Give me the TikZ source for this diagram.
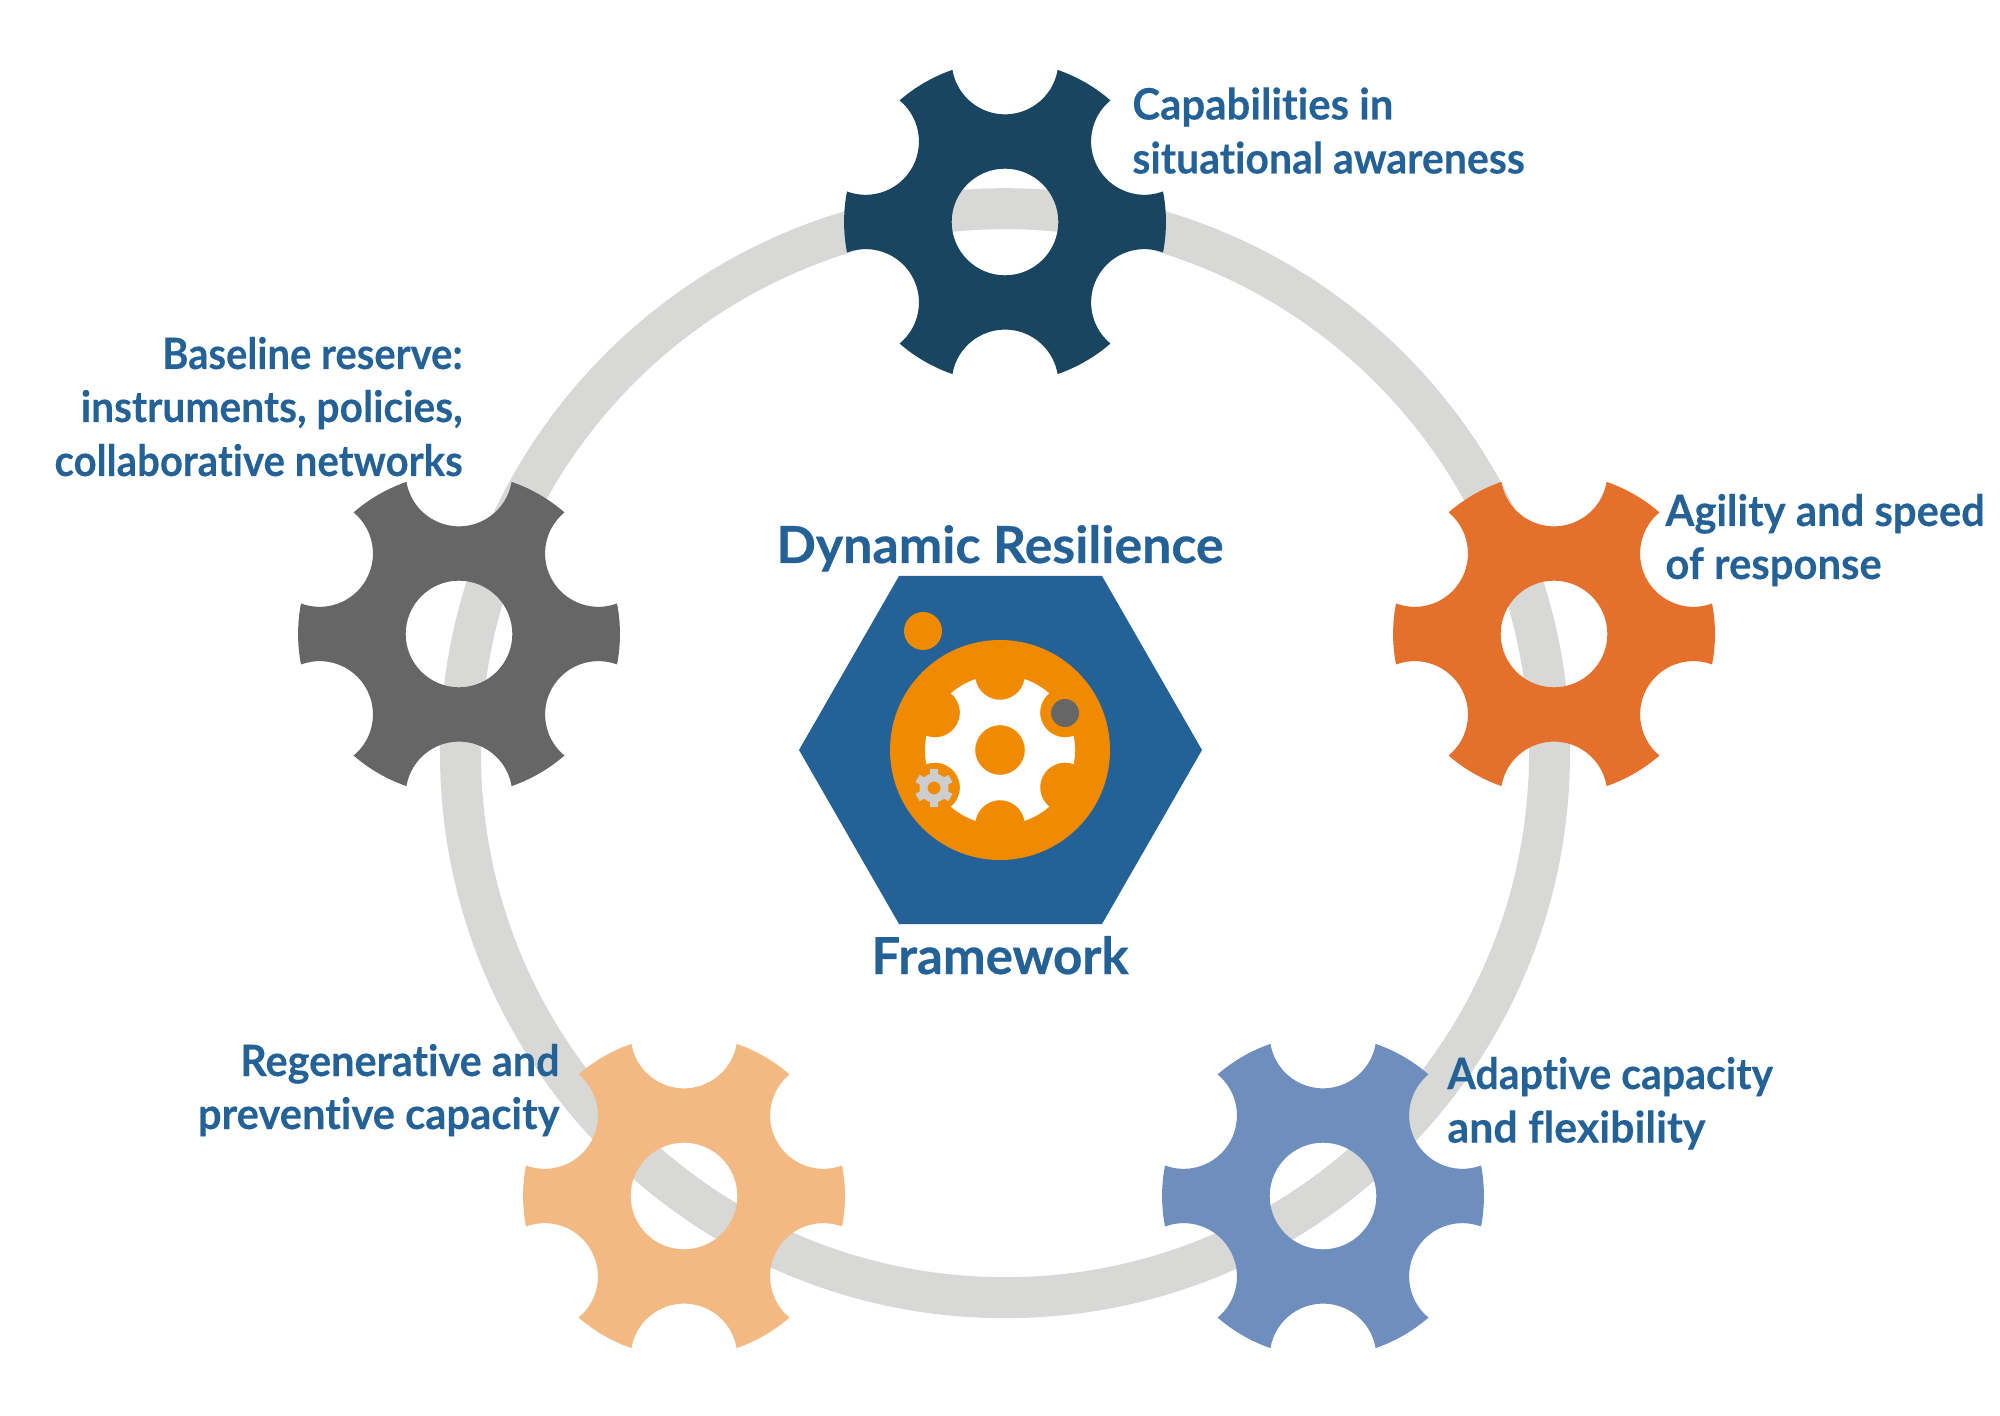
\documentclass[tikz,border=0pt]{standalone}
\usepackage{fontspec}
\setmainfont{Lato}[Ligatures=NoCommon]
\definecolor{ringgray}{HTML}{D8D8D6}
\definecolor{navy}{HTML}{1A4560}
\definecolor{rust}{HTML}{E5702C}
\definecolor{slate}{HTML}{666666}
\definecolor{peach}{HTML}{F2BA82}
\definecolor{steel}{HTML}{6E8EBE}
\definecolor{inkblue}{HTML}{236196}
\definecolor{amber}{HTML}{F08A00}
\definecolor{minigray}{HTML}{CDCDCD}
\tikzset{
  x=0.5pt,y=0.5pt,
  gear/.pic={
    \path[pic actions,even odd rule] (70.93:160)
      foreach \t in {90,150,210,270,330,390}{
        arc[start angle=\t+260.46,end angle=\t+99.54,radius=53]
        arc[start angle=\t+19.07,end angle=\t+40.93,radius=160]
      } -- cycle (0,0) circle[radius=53];
  },
  labeltext/.style={inner sep=0pt,text=inkblue,font=\fontsize{21.6}{27}\selectfont\bfseries\addfontfeature{FakeStretch=#1,FakeBold=0.2}},
  titletext/.style={inner sep=0pt,text=inkblue,font=\fontsize{25.5}{30}\selectfont\bfseries\addfontfeature{FakeStretch=#1,FakeBold=0.5}},
}
\begin{document}
\begin{tikzpicture}
\useasboundingbox (0,0) rectangle (2000,1415);
% ring
\coordinate (ringc) at (1005,661.8);
\draw[ringgray,line width=20.5pt] (ringc) circle[radius=544.5];
% gears
\path (1005,1193) pic[fill=navy,scale=1.006] {gear};
\path (1554,781) pic[fill=rust,scale=1.006] {gear};
\path (459,781) pic[fill=slate,scale=1.006] {gear};
\path (684,219) pic[fill=peach,scale=1.006] {gear};
\path (1323,219) pic[fill=steel,scale=1.006] {gear};
% hexagon
\fill[inkblue] (799,665) -- (899,839) -- (1102,839) -- (1202,665) -- (1102,491) -- (899,491) -- cycle;
\fill[amber] (923,784) circle[radius=19];
\fill[amber] (1000,665) circle[radius=110];
\path (1000,665) pic[fill=white,scale=0.469] {gear};
\fill[slate] (1065,702) circle[radius=14];
% mini gear
\begin{scope}[shift={(934,627)}]
  \foreach \a in {30,90,150,210,270,330}
    \fill[minigray,rotate=\a] (12,-4.2) -- (19,-4.2) -- (19,4.2) -- (12,4.2) -- cycle;
  \fill[minigray,even odd rule] (0,0) circle[radius=14.5] (0,0) circle[radius=6.5];
\end{scope}
% labels
\node[labeltext=0.97,anchor=base west] (cap1) at (1132,1295.5) {Capabilities in};
\node[labeltext=0.949,anchor=base west] (cap2) at (1132,1241.5) {situational awareness};
\node[labeltext=0.925,anchor=base east] (base1) at (463,1046) {Baseline reserve:};
\node[labeltext=0.943,anchor=base east] (base2) at (463,993) {instruments, policies,};
\node[labeltext=0.93,anchor=base east] (base3) at (463,939) {collaborative networks};
\node[labeltext=0.967,anchor=base west] (agi1) at (1665,889) {Agility and speed};
\node[labeltext=0.967,anchor=base west] (agi2) at (1665,836) {of response};
\node[labeltext=0.958,anchor=base east] (reg) at (560,339) {Regenerative and};
\node[labeltext=0.966,anchor=base east] (pre) at (560,286) {preventive capacity};
\node[labeltext=0.95,anchor=base west] (ada) at (1447,326) {Adaptive capacity};
\node[labeltext=0.993,anchor=base west] (fle) at (1447,272.5) {and flexibility};
\node[titletext=1.017,anchor=base] (dyn) at (1000,852) {Dynamic Resilience};
\node[titletext=1,anchor=base] (fra) at (1000,441) {Framework};
\end{tikzpicture}
\end{document}
